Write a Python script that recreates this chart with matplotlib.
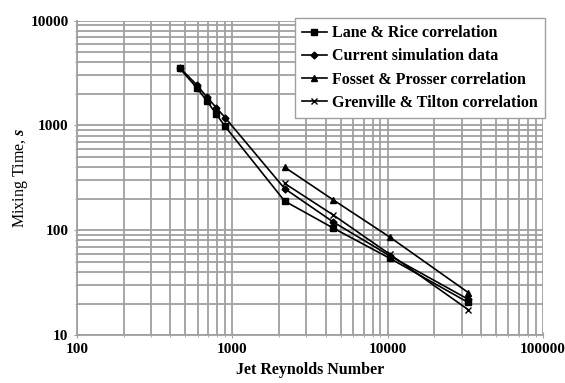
import matplotlib
matplotlib.use("Agg")
import matplotlib.pyplot as plt
from matplotlib.ticker import LogLocator, FixedLocator, NullFormatter

plt.rcParams['font.family'] = ['Liberation Serif', 'DejaVu Serif']
plt.rcParams['font.weight'] = 'bold'
plt.rcParams['mathtext.fontset'] = 'custom'
plt.rcParams['mathtext.it'] = 'Liberation Serif:italic'
plt.rcParams['mathtext.rm'] = 'Liberation Serif'

# Lane & Rice and current data share the same jet Reynolds numbers
re_all = [460, 590, 690, 790, 900, 2175, 4470, 10350, 33000]
lane_rice = [3500, 2300, 1700, 1280, 980, 190, 105, 54, 20.5]
current = [3550, 2450, 1850, 1480, 1190, 250, 120, 57, 22]

# Correlations only given for the higher Reynolds numbers
re_high = [2175, 4470, 10350, 33000]
fosset = [400, 195, 86, 25.5]
grenville = [280, 140, 59, 17.5]

x_ticks = [100, 1000, 10000, 100000]
y_ticks = [10, 100, 1000, 10000]

fig = plt.figure(figsize=(5.65, 3.83), dpi=100)
ax = fig.add_axes([0.136, 0.125, 0.825, 0.821])

ax.set_xscale('log')
ax.set_yscale('log')
ax.set_xlim(100, 100000)
ax.set_ylim(10, 10000)

ax.plot(re_all, lane_rice, color='black', lw=1.2, marker='s', ms=5,
        label='Lane & Rice correlation')
ax.plot(re_all, current, color='black', lw=1.2, marker='D', ms=3.5,
        label='Current simulation data')
ax.plot(re_high, fosset, color='black', lw=1.2, marker='^', ms=4,
        label='Fosset & Prosser correlation')
ax.plot(re_high, grenville, color='black', lw=1.2, marker='x', ms=5,
        markeredgewidth=1.0, label='Grenville & Tilton correlation')

ax.xaxis.set_major_locator(FixedLocator(x_ticks))
ax.yaxis.set_major_locator(FixedLocator(y_ticks))
ax.xaxis.set_minor_locator(LogLocator(base=10, subs=range(2, 10)))
ax.yaxis.set_minor_locator(LogLocator(base=10, subs=range(2, 10)))
ax.xaxis.set_minor_formatter(NullFormatter())
ax.yaxis.set_minor_formatter(NullFormatter())
ax.set_xticklabels([str(v) for v in x_ticks])
ax.set_yticklabels([str(v) for v in y_ticks])

ax.grid(True, which='both', color='#a0a0a0', lw=1.3)
ax.set_axisbelow(True)
for side in ['top', 'right']:
    ax.spines[side].set_visible(False)
for side in ['left', 'bottom']:
    ax.spines[side].set_color('#a0a0a0')
    ax.spines[side].set_linewidth(1.3)

ax.tick_params(which='both', direction='inout', color='#a0a0a0', labelsize=11)
ax.tick_params(which='major', length=5)
ax.tick_params(which='minor', length=3)

ax.set_xlabel('Jet Reynolds Number', fontsize=11.5, fontweight='bold', labelpad=4)
ax.set_ylabel('Mixing Time, $s$', fontsize=11.5, fontweight='normal', labelpad=0)

leg = ax.legend(loc='upper right', bbox_to_anchor=(545 / 565, 1 - 18 / 383),
                bbox_transform=fig.transFigure, borderaxespad=0,
                fancybox=False, framealpha=1, edgecolor='#a0a0a0',
                handlelength=1.6, handletextpad=0.3, labelspacing=0.45,
                borderpad=0.45, prop={'size': 11.5, 'weight': 'bold'})
leg.get_frame().set_linewidth(1.0)

fig.savefig('out.png', dpi=100)
